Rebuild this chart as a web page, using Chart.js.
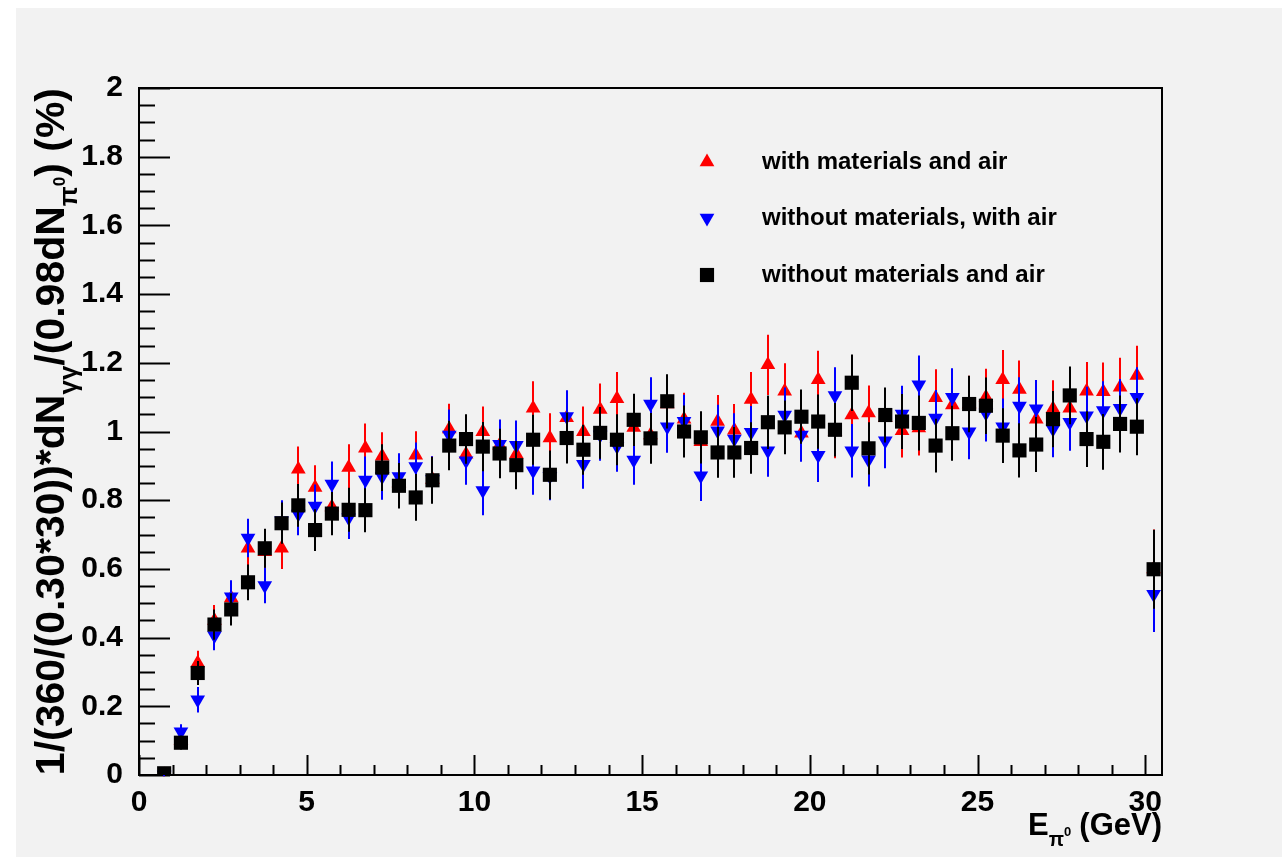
<!DOCTYPE html>
<html lang="en">
<head>
<meta charset="UTF-8">
<title>Two-photon yield per pi0</title>
<script src="https://cdn.jsdelivr.net/npm/chart.js@4.4.0/dist/chart.umd.min.js"></script>
<style>
  html, body { margin: 0; padding: 0; background: #fff; }
  canvas { display: block; }
</style>
</head>
<body>
<canvas id="myChart" width="1282" height="857"></canvas>
<script>
// bin centres in GeV
const energyBins = [
  0.75, 1.25, 1.75, 2.25, 2.75, 3.25, 3.75, 4.25, 4.75, 5.25,
  5.75, 6.25, 6.75, 7.25, 7.75, 8.25, 8.75, 9.25, 9.75, 10.25,
  10.75, 11.25, 11.75, 12.25, 12.75, 13.25, 13.75, 14.25, 14.75, 15.25,
  15.75, 16.25, 16.75, 17.25, 17.75, 18.25, 18.75, 19.25, 19.75, 20.25,
  20.75, 21.25, 21.75, 22.25, 22.75, 23.25, 23.75, 24.25, 24.75, 25.25,
  25.75, 26.25, 26.75, 27.25, 27.75, 28.25, 28.75, 29.25, 29.75, 30.25
];

const seriesNames = ['with materials and air', 'without materials, with air', 'without materials and air'];

// with materials and air
const matAir = [
  0.000, 0.100, 0.326, 0.450, 0.515, 0.660, 0.650, 0.660, 0.890, 0.837,
  0.780, 0.895, 0.951, 0.928, 0.850, 0.931, 0.860, 1.007, 0.934, 0.999,
  0.960, 0.934, 1.068, 0.981, 1.040, 0.999, 1.064, 1.095, 1.012, 0.990,
  1.080, 1.036, 0.970, 1.029, 1.004, 1.093, 1.194, 1.117, 0.995, 1.151,
  1.000, 1.048, 1.054, 1.040, 1.002, 1.010, 1.098, 1.077, 1.080, 1.100,
  1.151, 1.122, 1.036, 1.066, 1.068, 1.117, 1.116, 1.129, 1.163, 0.600
];
const matAirErr = [
  0.004, 0.020, 0.036, 0.045, 0.048, 0.055, 0.058, 0.060, 0.066, 0.065,
  0.064, 0.068, 0.072, 0.070, 0.068, 0.070, 0.068, 0.074, 0.070, 0.074,
  0.072, 0.070, 0.078, 0.072, 0.075, 0.074, 0.076, 0.078, 0.075, 0.075,
  0.078, 0.077, 0.075, 0.077, 0.076, 0.080, 0.088, 0.082, 0.078, 0.084,
  0.078, 0.080, 0.080, 0.080, 0.078, 0.080, 0.083, 0.082, 0.082, 0.083,
  0.086, 0.085, 0.081, 0.083, 0.083, 0.085, 0.085, 0.086, 0.087, 0.115
];

// without materials, with air
const noMatAir = [
  0.000, 0.126, 0.219, 0.406, 0.519, 0.690, 0.552, 0.740, 0.760, 0.783,
  0.847, 0.749, 0.859, 0.869, 0.869, 0.898, 0.860, 0.990, 0.915, 0.828,
  0.963, 0.960, 0.886, 0.870, 1.044, 0.905, 0.990, 0.957, 0.917, 1.080,
  1.014, 1.030, 0.871, 1.002, 0.978, 0.998, 0.944, 1.048, 0.990, 0.931,
  1.105, 0.944, 0.918, 0.973, 1.051, 1.136, 1.039, 1.100, 0.999, 1.054,
  1.014, 1.074, 1.066, 1.007, 1.027, 1.046, 1.061, 1.068, 1.100, 0.526
];
const noMatAirErr = [
  0.004, 0.022, 0.037, 0.043, 0.048, 0.056, 0.052, 0.060, 0.062, 0.063,
  0.066, 0.062, 0.068, 0.068, 0.068, 0.070, 0.068, 0.074, 0.070, 0.072,
  0.072, 0.072, 0.070, 0.070, 0.076, 0.072, 0.075, 0.074, 0.072, 0.078,
  0.076, 0.077, 0.073, 0.076, 0.075, 0.076, 0.076, 0.080, 0.078, 0.078,
  0.082, 0.078, 0.078, 0.080, 0.082, 0.085, 0.082, 0.084, 0.080, 0.083,
  0.082, 0.084, 0.084, 0.082, 0.083, 0.084, 0.085, 0.085, 0.087, 0.110
];

// without materials and air
const noMatNoAir = [
  0.005, 0.094, 0.297, 0.438, 0.482, 0.561, 0.660, 0.733, 0.785, 0.713,
  0.761, 0.772, 0.771, 0.895, 0.842, 0.808, 0.858, 0.959, 0.978, 0.956,
  0.936, 0.902, 0.976, 0.874, 0.981, 0.947, 0.996, 0.976, 1.034, 0.980,
  1.088, 1.000, 0.983, 0.939, 0.939, 0.952, 1.027, 1.012, 1.043, 1.029,
  1.005, 1.142, 0.951, 1.048, 1.029, 1.025, 0.959, 0.995, 1.080, 1.075,
  0.988, 0.945, 0.962, 1.036, 1.105, 0.978, 0.970, 1.022, 1.014, 0.599
];
const noMatNoAirErr = [
  0.004, 0.020, 0.035, 0.044, 0.047, 0.052, 0.057, 0.060, 0.062, 0.061,
  0.063, 0.064, 0.064, 0.068, 0.066, 0.068, 0.068, 0.072, 0.072, 0.072,
  0.072, 0.070, 0.073, 0.071, 0.074, 0.073, 0.075, 0.074, 0.076, 0.074,
  0.079, 0.076, 0.076, 0.074, 0.074, 0.075, 0.078, 0.078, 0.079, 0.079,
  0.078, 0.082, 0.076, 0.080, 0.080, 0.080, 0.078, 0.080, 0.082, 0.082,
  0.080, 0.079, 0.080, 0.082, 0.084, 0.081, 0.081, 0.083, 0.083, 0.115
];

const xTickLabels = ['0', '5', '10', '15', '20', '25', '30'];
const yTickLabels = ['0', '0.2', '0.4', '0.6', '0.8', '1', '1.2', '1.4', '1.6', '1.8', '2'];

const FONT = 'Liberation Sans, Arial, Helvetica, sans-serif';

function points(vals) {
  return energyBins.map((e, i) => ({ x: e, y: vals[i] }));
}

// grey pad with thin white strip on top/left
const padBackground = {
  id: 'padBackground',
  beforeDraw(chart) {
    const ctx = chart.ctx;
    ctx.save();
    ctx.fillStyle = '#ffffff';
    ctx.fillRect(0, 0, chart.width, chart.height);
    ctx.fillStyle = '#f2f2f2';
    ctx.fillRect(16, 8, chart.width - 16, chart.height - 8);
    ctx.restore();
  }
};

// frame box with inward ticks
const frameTicks = {
  id: 'frameTicks',
  beforeDatasetsDraw(chart) {
    const { ctx, chartArea: a, scales: { x, y } } = chart;
    ctx.save();
    ctx.strokeStyle = '#000';
    ctx.lineWidth = 2;
    ctx.strokeRect(a.left, a.top, a.right - a.left, a.bottom - a.top);
    ctx.beginPath();
    for (let k = 0; k <= 30; k++) {
      const px = Math.round(x.getPixelForValue(k)) + 0.5;
      const len = k % 5 === 0 ? 20 : 10;
      ctx.moveTo(px, a.bottom);
      ctx.lineTo(px, a.bottom - len);
    }
    for (let k = 0; k <= 40; k++) {
      const py = Math.round(y.getPixelForValue(k * 0.05)) + 0.5;
      const len = k % 4 === 0 ? 31 : 16;
      ctx.moveTo(a.left, py);
      ctx.lineTo(a.left + len, py);
    }
    ctx.stroke();
    ctx.restore();
  }
};

// vertical error bars, drawn right before each series' markers
const errorBars = {
  id: 'errorBars',
  beforeDatasetDraw(chart, args) {
    const ds = chart.data.datasets[args.index];
    const yScale = chart.scales.y;
    const ctx = chart.ctx;
    ctx.save();
    ctx.strokeStyle = ds.barColor;
    ctx.lineWidth = 2;
    ctx.beginPath();
    args.meta.data.forEach((pt, i) => {
      const v = ds.data[i].y, e = ds.errors[i];
      ctx.moveTo(Math.round(pt.x), yScale.getPixelForValue(v + e));
      ctx.lineTo(Math.round(pt.x), yScale.getPixelForValue(v - e));
    });
    ctx.stroke();
    ctx.restore();
  }
};

// text made of pieces with sub/superscripts, right aligned at (0,0)
function drawRich(ctx, parts) {
  let total = 0;
  parts.forEach(p => {
    ctx.font = 'bold ' + p.size + 'px ' + FONT;
    p.w = ctx.measureText(p.t).width;
    total += p.w + (p.gap || 0);
  });
  let cx = -total;
  parts.forEach(p => {
    ctx.font = 'bold ' + p.size + 'px ' + FONT;
    ctx.fillText(p.t, cx, p.dy || 0);
    cx += p.w + (p.gap || 0);
  });
}

const axisTitles = {
  id: 'axisTitles',
  afterDraw(chart) {
    const { ctx, chartArea: a } = chart;
    ctx.save();
    ctx.fillStyle = '#000';
    ctx.textBaseline = 'alphabetic';
    ctx.textAlign = 'left';

    // E_pi0 (GeV)
    ctx.save();
    ctx.translate(a.right, 835);
    drawRich(ctx, [
      { t: 'E', size: 31 },
      { t: '\u03c0', size: 20, dy: 11 },
      { t: '0', size: 13, dy: 1, gap: 8 },
      { t: '(GeV)', size: 31 }
    ]);
    ctx.restore();

    // 1/(360/(0.30*30))*dN_gg/(0.98dN_pi0) (%)
    ctx.save();
    ctx.translate(64, a.top);
    ctx.rotate(-Math.PI / 2);
    drawRich(ctx, [
      { t: '1/(360/(0.30*30))*dN', size: 41 },
      { t: '\u03b3\u03b3', size: 26, dy: 13 },
      { t: '/(0.98dN', size: 41 },
      { t: '\u03c0', size: 26, dy: 13 },
      { t: '0', size: 17, dy: 1 },
      { t: ') (%)', size: 41 }
    ]);
    ctx.restore();

    // legend
    const helpers = Chart.helpers;
    const rows = [162, 218, 275];
    chart.data.datasets.forEach((ds, i) => {
      ctx.fillStyle = ds.pointBackgroundColor;
      helpers.drawPoint(ctx, {
        pointStyle: ds.pointStyle,
        radius: ds.pointRadius,
        rotation: ds.pointRotation || 0,
        borderWidth: 0
      }, 707, rows[i]);
      ctx.fillStyle = '#000';
      ctx.font = 'bold 24px ' + FONT;
      ctx.textBaseline = 'middle';
      ctx.fillText(seriesNames[i], 762, rows[i]);
    });
    ctx.restore();
  }
};

new Chart('myChart', {
  type: 'scatter',
  data: {
    datasets: [
      {
        label: seriesNames[0],
        data: points(matAir),
        errors: matAirErr,
        barColor: '#ff0000',
        pointStyle: 'triangle',
        pointRadius: 8.5,
        pointBackgroundColor: '#ff0000',
        pointBorderWidth: 0,
        order: 3
      },
      {
        label: seriesNames[1],
        data: points(noMatAir),
        errors: noMatAirErr,
        barColor: '#0000ff',
        pointStyle: 'triangle',
        pointRotation: 180,
        pointRadius: 8.5,
        pointBackgroundColor: '#0000ff',
        pointBorderWidth: 0,
        order: 2
      },
      {
        label: seriesNames[2],
        data: points(noMatNoAir),
        errors: noMatNoAirErr,
        barColor: '#000000',
        pointStyle: 'rect',
        pointRadius: 10,
        pointBackgroundColor: '#000000',
        pointBorderWidth: 0,
        order: 1
      }
    ]
  },
  options: {
    responsive: false,
    animation: false,
    events: [],
    layout: { padding: { top: 88, right: 120, bottom: 0, left: 0 } },
    plugins: { legend: { display: false }, tooltip: { enabled: false } },
    scales: {
      x: {
        type: 'linear',
        min: 0,
        max: 30.5,
        grid: { display: false },
        border: { display: false },
        afterFit(scale) { scale.height = 82; },
        ticks: {
          stepSize: 5,
          includeBounds: false,
          autoSkip: false,
          maxRotation: 0,
          padding: 2,
          color: '#000',
          font: { family: FONT, size: 30, weight: 'bold' },
          callback: (v, i) => xTickLabels[i]
        }
      },
      y: {
        min: 0,
        max: 2,
        grid: { display: false },
        border: { display: false },
        afterFit(scale) { scale.width = 139; },
        ticks: {
          stepSize: 0.2,
          autoSkip: false,
          padding: 8,
          color: '#000',
          font: { family: FONT, size: 30, weight: 'bold' },
          callback: (v, i) => yTickLabels[i]
        }
      }
    }
  },
  plugins: [padBackground, frameTicks, errorBars, axisTitles]
});
</script>
</body>
</html>
